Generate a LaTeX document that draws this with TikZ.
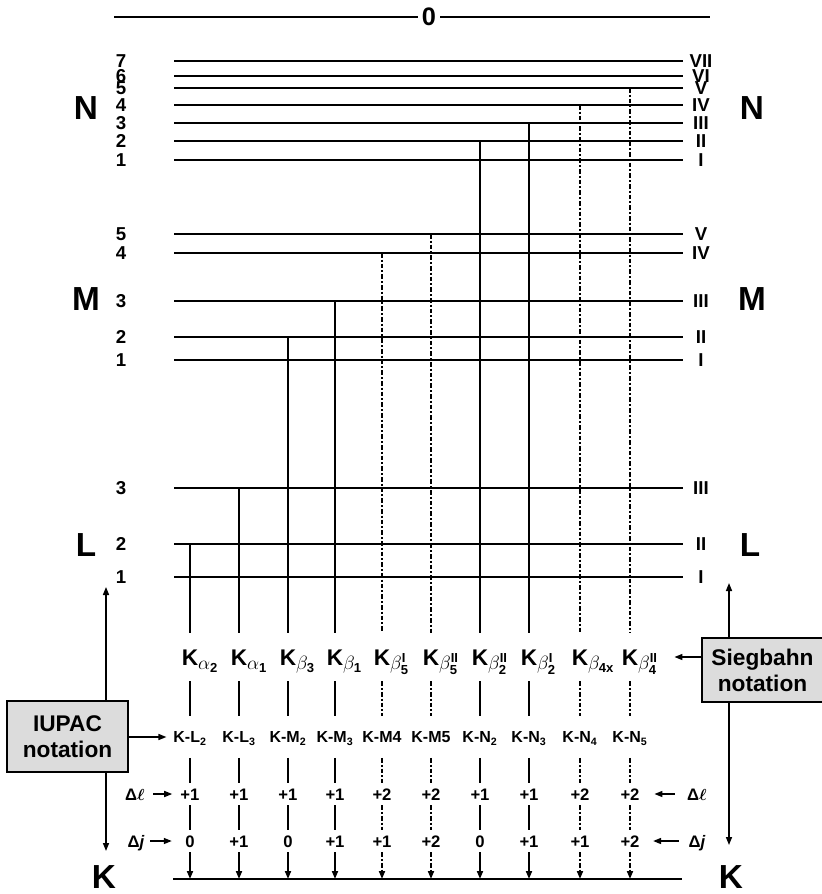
\documentclass[tikz,border=0pt]{standalone}
\usepackage{amsmath}
\usepackage{fontspec}
\setmainfont{Liberation Sans}
\usetikzlibrary{positioning,arrows.meta}
\definecolor{boxgray}{HTML}{DCDCDC}
\newcommand{\bfsz}[1]{\fontsize{#1}{#1}\selectfont\bfseries}
\newcommand{\siegsub}[1]{\rlap{\raisebox{-3.5pt}{\fontsize{14}{14}\selectfont$#1$}}}

\begin{document}
\begin{tikzpicture}[
        x=0.75pt, y=-0.75pt,
        level/.style={
            line width=1.9pt
        },
        allowed/.style={
            line width=1.4pt
        },
        weak/.style={
            line width=1.4pt,
            dash pattern=on 3.5pt off 1.5pt on 1.5pt off 1.5pt
        },
        tip/.style={
            -{Triangle[length=6pt,width=4.5pt]}
        },
        side/.style={
            tip,
            line width=1.1pt
        },
        shell/.style={font=\bfsz{25}, inner sep=0pt},
        lvnum/.style={font=\bfsz{14}, inner sep=0pt},
        sieg/.style={
            font=\bfsz{17},
            text height=12pt, text depth=0pt,
            minimum height=36pt,
            inner xsep=1pt, inner ysep=0pt
        },
        iupac/.style={
            font=\bfsz{12},
            text height=8.6pt, text depth=0pt,
            minimum height=31pt,
            inner xsep=1pt, inner ysep=0pt
        },
        dval/.style={
            font=\bfsz{12.5},
            text height=9pt, text depth=0pt,
            minimum height=16.5pt,
            inner xsep=1pt, inner ysep=0pt
        },
        notebox/.style={
            draw,
            line width=1.3pt,
            fill=boxgray,
            minimum width=90.75pt,
            align=center,
            font={\fontsize{17}{19.5}\selectfont\bfseries}
        }
    ]

    \useasboundingbox (0,0) rectangle (822,894);

    % vacuum level
    \node[font=\bfsz{19}, inner sep=3pt] (zero) at (429,17) {0};
    \coordinate (zero-w) at (114,17);
    \coordinate (zero-e) at (710,17);
    \draw[level] (zero-w) -- (zero);
    \draw[level] (zero) -- (zero-e);

    % sub-shells
    \foreach \nm/\yy/\num/\rom in {N7/61/7/VII, N6/76/6/VI, N5/88/5/V, N4/105/4/IV,
            N3/123/3/III, N2/141/2/II, N1/160/1/I,
            M5/234/5/V, M4/253/4/IV, M3/301/3/III, M2/337/2/II, M1/360/1/I,
            L3/488/3/III, L2/544/2/II, L1/577/1/I} {
        \coordinate (\nm) at (174,\yy);
        \coordinate (\nm-e) at (683,\yy);
        \draw[level] (\nm) -- (\nm-e);
        \node[lvnum] (\nm-num) at (121,\yy) {\num};
        \node[lvnum] (\nm-rom) at (701,\yy) {\rom};
    }

    % K shell
    \coordinate (Kw) at (173,879);
    \coordinate (Ke) at (682,879);
    \draw[level] (Kw) -- (Ke);

    \node[shell] (N-left) at (86,108) {N};
    \node[shell] (N-right) at (752,108) {N};
    \node[shell] (M-left) at (86,299) {M};
    \node[shell] (M-right) at (752,299) {M};
    \node[shell] (L-left) at (86,545) {L};
    \node[shell] (L-right) at (750,545) {L};
    \node[shell] (K-left) at (104,877) {K};
    \node[shell] (K-right) at (731,877) {K};

    % transitions: Siegbahn, IUPAC, delta l, delta j
    \foreach \i/\xx/\lv/\kind/\sg/\iu/\dl/\dj in {
            1/190/L2/allowed/{\alpha_{\text{2}}}/{L\textsubscript{2}}/+1/0,
            2/239/L3/allowed/{\alpha_{\text{1}}}/{L\textsubscript{3}}/+1/+1,
            3/288/M2/allowed/{\beta_{\text{3}}}/{M\textsubscript{2}}/+1/0,
            4/335/M3/allowed/{\beta_{\text{1}}}/{M\textsubscript{3}}/+1/+1,
            5/382/M4/weak/{\beta_{\text{5}}^{\text{I}}}/{M4}/+2/+1,
            6/431/M5/weak/{\beta_{\text{5}}^{\text{II}}}/{M5}/+2/+2,
            7/480/N2/allowed/{\beta_{\text{2}}^{\text{II}}}/{N\textsubscript{2}}/+1/0,
            8/529/N3/allowed/{\beta_{\text{2}}^{\text{I}}}/{N\textsubscript{3}}/+1/+1,
            9/580/N4/weak/{\beta_{\text{4x}}}/{N\textsubscript{4}}/+2/+1,
            10/630/N5/weak/{\beta_{\text{4}}^{\text{II}}}/{N\textsubscript{5}}/+2/+2} {
        \node[sieg] (s\i) at (\xx,657) {K\siegsub{\sg}};
        \node[iupac] (i\i) at (\xx,737) {K-\iu};
        \node[dval] (l\i) at (\xx,794) {\dl};
        \node[dval] (j\i) at (\xx,841) {\dj};
        \draw[\kind] (s\i |- \lv) -- (s\i.north);
        \draw[\kind] (s\i) -- (i\i);
        \draw[\kind] (i\i) -- (l\i);
        \draw[\kind] (l\i) -- (j\i);
        \draw[\kind, tip] (j\i) -- (j\i |- Kw);
    }

    % selection rule labels
    \node[dval] (dlL) at (135,794) {Δ{\boldmath$\ell$}};
    \node[dval] (djL) at (136,841) {Δ\textit{j}};
    \node[dval] (dlR) at (697,794) {Δ{\boldmath$\ell$}};
    \node[dval] (djR) at (697,841) {Δ\textit{j}};
    \draw[side, shorten <=5pt, shorten >=5pt] (dlL) -- (l1);
    \draw[side, shorten <=3pt, shorten >=9pt] (djL) -- (j1);
    \draw[side, shorten <=8pt, shorten >=10pt] (dlR) -- (l10);
    \draw[side, shorten <=6pt, shorten >=9pt] (djR) -- (j10);

    % notation boxes
    \node[notebox, minimum height=53.25pt] (ibox) at (67.5,736.5) {IUPAC\\notation};
    \node[notebox, minimum height=48pt] (sbox) at (762.5,670) {Siegbahn\\notation};

    \coordinate (iup-up) at (106,587);
    \coordinate (iup-dn) at (106,851);
    \coordinate (sb-up) at (729,583);
    \coordinate (sb-dn) at (729,845);

    \draw[side] (ibox.north -| iup-up) -- (iup-up);
    \draw[side] (ibox.south -| iup-up) -- (iup-dn);
    \draw[side] (sbox.north -| sb-up) -- (sb-up);
    \draw[side] (sbox.south -| sb-up) -- (sb-dn);

    \draw[side, shorten >=4pt] (ibox.east |- i1) -- (i1.west);
    \draw[side] (sbox.west |- s10) -- ([xshift=26pt]s10.east);

\end{tikzpicture}
\end{document}
